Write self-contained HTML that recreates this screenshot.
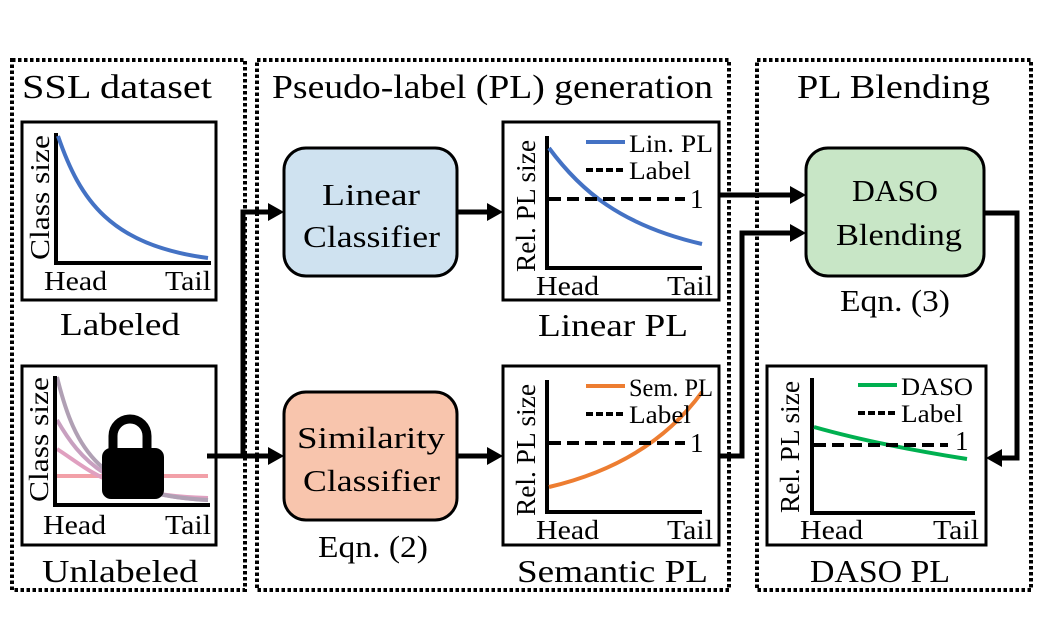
<!DOCTYPE html>
<html><head><meta charset="utf-8"><style>
html,body{margin:0;padding:0;background:#fff;}
svg{display:block;}
text{font-family:"Liberation Serif","DejaVu Serif",serif;fill:#000;}
</style></head><body>
<svg width="1037" height="643" viewBox="0 0 1037 643" xmlns="http://www.w3.org/2000/svg" font-family="Liberation Serif, DejaVu Serif, serif">
<!-- dotted frames -->
<g fill="none" stroke="#000" stroke-width="4" stroke-dasharray="3.5 2.5">
<rect x="12" y="60" width="233" height="530"/>
<rect x="257" y="60" width="472" height="530"/>
<rect x="757" y="60" width="274" height="530"/>
</g>
<!-- titles -->
<text x="22" y="98" font-size="34" textLength="190" lengthAdjust="spacingAndGlyphs">SSL dataset</text>
<text x="272" y="98" font-size="34" textLength="441" lengthAdjust="spacingAndGlyphs">Pseudo-label (PL) generation</text>
<text x="797" y="98" font-size="34" textLength="193" lengthAdjust="spacingAndGlyphs">PL Blending</text>

<!-- Labeled plot -->
<rect x="22" y="122" width="194" height="178" fill="#fff" stroke="#000" stroke-width="3"/>
<path d="M56 133 V263 H211" fill="none" stroke="#000" stroke-width="4"/>
<path d="M58 136 C 80 200, 110 245, 208 258" fill="none" stroke="#4472c4" stroke-width="4"/>
<text transform="translate(49,260) rotate(-90)" font-size="27" textLength="125" lengthAdjust="spacingAndGlyphs">Class size</text>
<text x="44" y="290" font-size="27" textLength="63" lengthAdjust="spacingAndGlyphs">Head</text>
<text x="165" y="290" font-size="27" textLength="46" lengthAdjust="spacingAndGlyphs">Tail</text>
<text x="60" y="335" font-size="32" textLength="120" lengthAdjust="spacingAndGlyphs">Labeled</text>

<!-- Unlabeled plot -->
<rect x="22" y="366" width="194" height="179" fill="#fff" stroke="#000" stroke-width="3"/>
<g fill="none" stroke-width="4">
<path d="M57 476 H208" stroke="#f2a0a8"/>
<path d="M57 449 C 90 470, 110 495, 208 498" stroke="#e0a0c0"/>
<path d="M57 420 C 80 460, 110 495, 208 500" stroke="#c8a0c0"/>
<path d="M57 377 C 75 450, 100 495, 208 500" stroke="#b0a0b4"/>
</g>
<path d="M55 376 V505 H210" fill="none" stroke="#000" stroke-width="4"/>
<path d="M113 452 V436 a17 17 0 0 1 34 0 V452" fill="none" stroke="#000" stroke-width="9"/>
<rect x="102" y="448" width="62" height="51" rx="9" fill="#000"/>
<text transform="translate(48,502) rotate(-90)" font-size="27" textLength="125" lengthAdjust="spacingAndGlyphs">Class size</text>
<text x="43" y="534" font-size="27" textLength="63" lengthAdjust="spacingAndGlyphs">Head</text>
<text x="165" y="534" font-size="27" textLength="46" lengthAdjust="spacingAndGlyphs">Tail</text>
<text x="42" y="582" font-size="32" textLength="156" lengthAdjust="spacingAndGlyphs">Unlabeled</text>

<!-- classifiers -->
<rect x="284" y="148" width="173" height="128" rx="22" fill="#cfe2f0" stroke="#000" stroke-width="3"/>
<text x="322" y="205" font-size="31" textLength="98" lengthAdjust="spacingAndGlyphs">Linear</text>
<text x="303" y="247" font-size="31" textLength="137" lengthAdjust="spacingAndGlyphs">Classifier</text>
<rect x="284" y="392" width="173" height="128" rx="22" fill="#f8c5ad" stroke="#000" stroke-width="3"/>
<text x="297" y="448" font-size="31" textLength="148" lengthAdjust="spacingAndGlyphs">Similarity</text>
<text x="303" y="491" font-size="31" textLength="137" lengthAdjust="spacingAndGlyphs">Classifier</text>
<text x="318" y="557" font-size="31" textLength="110" lengthAdjust="spacingAndGlyphs">Eqn. (2)</text>

<!-- Linear PL plot -->
<rect x="503" y="122" width="216" height="178" fill="#fff" stroke="#000" stroke-width="3"/>
<path d="M547 136 V268 H702" fill="none" stroke="#000" stroke-width="4"/>
<path d="M549 148 C 580 190, 620 225, 702 244" fill="none" stroke="#4472c4" stroke-width="4"/>
<path d="M549 199 H685" stroke="#000" stroke-width="4" stroke-dasharray="12 6"/>
<path d="M586 142 H625" stroke="#4472c4" stroke-width="4"/>
<path d="M586 170 H625" stroke="#000" stroke-width="4" stroke-dasharray="7 3"/>
<text x="629" y="152" font-size="25" textLength="84" lengthAdjust="spacingAndGlyphs">Lin. PL</text>
<text x="629" y="179" font-size="25" textLength="62" lengthAdjust="spacingAndGlyphs">Label</text>
<text x="690" y="208" font-size="27">1</text>
<text transform="translate(535,272) rotate(-90)" font-size="27" textLength="132" lengthAdjust="spacingAndGlyphs">Rel. PL size</text>
<text x="536" y="295" font-size="27" textLength="63" lengthAdjust="spacingAndGlyphs">Head</text>
<text x="667" y="295" font-size="27" textLength="46" lengthAdjust="spacingAndGlyphs">Tail</text>
<text x="538" y="336" font-size="32" textLength="150" lengthAdjust="spacingAndGlyphs">Linear PL</text>

<!-- Semantic PL plot -->
<rect x="503" y="366" width="216" height="179" fill="#fff" stroke="#000" stroke-width="3"/>
<path d="M547 380 V512 H702" fill="none" stroke="#000" stroke-width="4"/>
<path d="M549 487 C 600 475, 660 450, 702 392" fill="none" stroke="#ed7d31" stroke-width="4"/>
<path d="M549 443 H685" stroke="#000" stroke-width="4" stroke-dasharray="12 6"/>
<path d="M586 386 H625" stroke="#ed7d31" stroke-width="4"/>
<path d="M586 414 H625" stroke="#000" stroke-width="4" stroke-dasharray="7 3"/>
<text x="629" y="396" font-size="25" textLength="84" lengthAdjust="spacingAndGlyphs">Sem. PL</text>
<text x="629" y="423" font-size="25" textLength="62" lengthAdjust="spacingAndGlyphs">Label</text>
<text x="690" y="452" font-size="27">1</text>
<text transform="translate(535,516) rotate(-90)" font-size="27" textLength="132" lengthAdjust="spacingAndGlyphs">Rel. PL size</text>
<text x="536" y="539" font-size="27" textLength="63" lengthAdjust="spacingAndGlyphs">Head</text>
<text x="667" y="539" font-size="27" textLength="46" lengthAdjust="spacingAndGlyphs">Tail</text>
<text x="517" y="582" font-size="32" textLength="191" lengthAdjust="spacingAndGlyphs">Semantic PL</text>

<!-- DASO Blending -->
<rect x="806" y="148" width="178" height="128" rx="22" fill="#c8e6c6" stroke="#000" stroke-width="3"/>
<text x="852" y="201" font-size="31" textLength="86" lengthAdjust="spacingAndGlyphs">DASO</text>
<text x="836" y="245" font-size="31" textLength="126" lengthAdjust="spacingAndGlyphs">Blending</text>
<text x="840" y="311" font-size="31" textLength="110" lengthAdjust="spacingAndGlyphs">Eqn. (3)</text>

<!-- DASO PL plot -->
<rect x="767" y="366" width="219" height="179" fill="#fff" stroke="#000" stroke-width="3"/>
<path d="M812 378 V513 H975" fill="none" stroke="#000" stroke-width="4"/>
<path d="M814 427 C 860 440, 910 450, 967 459" fill="none" stroke="#00b050" stroke-width="4"/>
<path d="M814 445 H948" stroke="#000" stroke-width="4" stroke-dasharray="12 6"/>
<path d="M858 385 H897" stroke="#00b050" stroke-width="4"/>
<path d="M858 413 H897" stroke="#000" stroke-width="4" stroke-dasharray="7 3"/>
<text x="901" y="395" font-size="25" textLength="72" lengthAdjust="spacingAndGlyphs">DASO</text>
<text x="901" y="422" font-size="25" textLength="62" lengthAdjust="spacingAndGlyphs">Label</text>
<text x="955" y="450" font-size="27">1</text>
<text transform="translate(799,513) rotate(-90)" font-size="27" textLength="132" lengthAdjust="spacingAndGlyphs">Rel. PL size</text>
<text x="800" y="539" font-size="27" textLength="63" lengthAdjust="spacingAndGlyphs">Head</text>
<text x="933" y="539" font-size="27" textLength="46" lengthAdjust="spacingAndGlyphs">Tail</text>
<text x="810" y="582" font-size="32" textLength="140" lengthAdjust="spacingAndGlyphs">DASO PL</text>

<!-- connectors -->
<g fill="none" stroke="#000" stroke-width="5">
<path d="M207 456 H270"/>
<path d="M243 456 V212 H270"/>
<path d="M457 212 H490"/>
<path d="M457 456 H490"/>
<path d="M719 195 H793"/>
<path d="M719 456 H742 V233 H793"/>
<path d="M984 213 H1017 V458 H1000"/>
</g>
<g fill="#000">
<path d="M284 212 l-16 -9 v18 z"/>
<path d="M284 456 l-16 -9 v18 z"/>
<path d="M503 212 l-16 -9 v18 z"/>
<path d="M503 456 l-16 -9 v18 z"/>
<path d="M806 195 l-16 -9 v18 z"/>
<path d="M806 233 l-16 -9 v18 z"/>
<path d="M986 458 l16 -9 v18 z"/>
</g>
</svg>
</body></html>
